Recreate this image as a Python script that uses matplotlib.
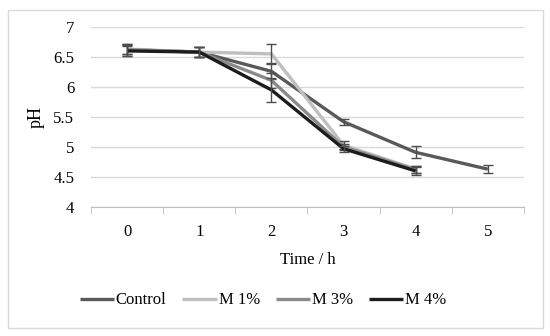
import numpy as np
import matplotlib.pyplot as plt
from matplotlib.patches import Rectangle

# pH over time
hours = [0, 1, 2, 3, 4, 5]
labels = ["Control", "M 1%", "M 3%", "M 4%"]
control = [6.62, 6.58, 6.26, 5.42, 4.91, 4.63]
control_err = [0.10, 0.08, 0.12, 0.05, 0.10, 0.07]
m1 = [6.63, 6.58, 6.55, 5.03, 4.63]
m1_err = [0.08, 0.08, 0.16, 0.07, 0.06]
m3 = [6.62, 6.58, 6.11, 5.00, 4.62]
m3_err = [0.08, 0.08, 0.12, 0.05, 0.06]
m4 = [6.60, 6.58, 5.95, 4.97, 4.60]
m4_err = [0.08, 0.08, 0.20, 0.05, 0.07]

colors = ["#595959", "#bfbfbf", "#8a8a8a", "#1c1c1c"]
series = [control, m1, m3, m4]
errs = [control_err, m1_err, m3_err, m4_err]

plt.rcParams['font.family'] = ['Liberation Serif', 'DejaVu Serif']
plt.rcParams['font.size'] = 12

fig = plt.figure(figsize=(5.5, 3.36), dpi=100)
ax = fig.add_axes([0.1655, 0.384, 0.787, 0.536])

for y, e, c, lab in zip(series, errs, colors, labels):
    x = hours[:len(y)]
    ax.plot(x, y, color=c, lw=2.4, label=lab, solid_capstyle='butt')
    ax.errorbar(x, y, yerr=e, fmt='none', ecolor="#4d4d4d", elinewidth=1.0,
                capsize=3.5, capthick=1.0)

ax.set_xlim(-0.5, 5.5)
ax.set_ylim(4, 7)
ax.set_yticks(np.arange(4, 7.01, 0.5))
ax.set_yticklabels(["4", "4.5", "5", "5.5", "6", "6.5", "7"])
ax.set_xticks(hours)
ax.set_xticks(np.arange(-0.5, 5.6, 1), minor=True)
ax.tick_params(axis='x', which='major', length=0, pad=12)
ax.tick_params(axis='x', which='minor', length=5, color="#bfbfbf", direction='out')
ax.tick_params(axis='y', length=0, pad=12)
ax.grid(axis='y', color="#d9d9d9", lw=1.0)
ax.set_axisbelow(True)
for s in ['top', 'right', 'left']:
    ax.spines[s].set_visible(False)
ax.spines['bottom'].set_color("#bfbfbf")

ax.set_xlabel("Time / h", labelpad=9)
ax.set_ylabel("pH", labelpad=6, fontsize=13)

fig.legend(loc='center', bbox_to_anchor=(0.478, 0.106), ncol=4, frameon=False,
           handlelength=2.05, handletextpad=0.12, columnspacing=0.95,
           fontsize=12)

fig.patches.append(Rectangle((8 / 550, 1 - 328 / 336), 535 / 550, 318 / 336,
                             transform=fig.transFigure, fill=False,
                             edgecolor="#d9d9d9", lw=1.0))

fig.savefig("out.png", dpi=100)
